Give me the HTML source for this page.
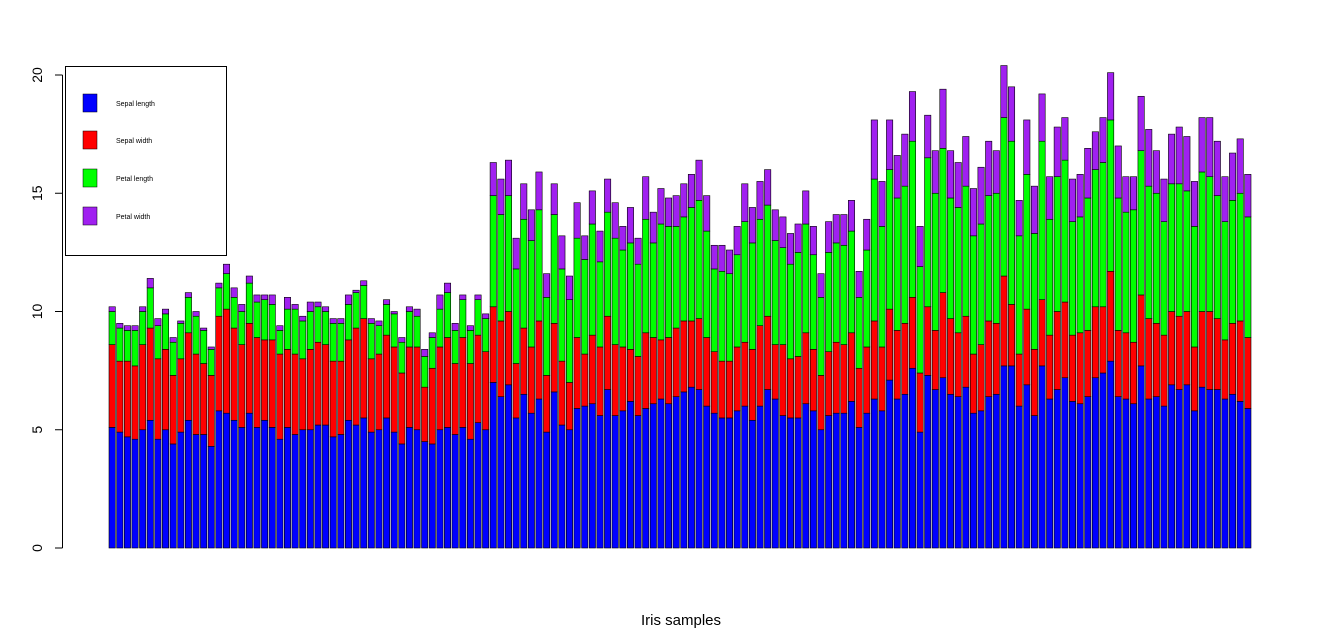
<!DOCTYPE html>
<html><head><meta charset="utf-8"><style>
body{margin:0;background:#fff;}
svg{display:block;font-family:"Liberation Sans",sans-serif;}
</style></head><body>
<svg id="chart" width="1328" height="643" viewBox="0 0 1328 643">
<g id="bars"></g>
<g id="axis"></g>
<text x="681" y="625" font-size="15" text-anchor="middle">Iris samples</text>
<g>
<rect x="65.5" y="66.5" width="161" height="189" fill="#fff" stroke="#000"/>
<rect x="83" y="94" width="14" height="18" fill="#0000ff" stroke="#000" stroke-width="0.5"/>
<text x="116" y="106" font-size="7">Sepal length</text>
<rect x="83" y="131" width="14" height="18" fill="#ff0000" stroke="#000" stroke-width="0.5"/>
<text x="116" y="143" font-size="7">Sepal width</text>
<rect x="83" y="169" width="14" height="18" fill="#00ff00" stroke="#000" stroke-width="0.5"/>
<text x="116" y="181" font-size="7">Petal length</text>
<rect x="83" y="207" width="14" height="18" fill="#a020f0" stroke="#000" stroke-width="0.5"/>
<text x="116" y="219" font-size="7">Petal width</text>
</g>
</svg>
<script>
const sepalLength=[5.1,4.9,4.7,4.6,5.0,5.4,4.6,5.0,4.4,4.9,5.4,4.8,4.8,4.3,5.8,5.7,5.4,5.1,5.7,5.1,5.4,5.1,4.6,5.1,4.8,5.0,5.0,5.2,5.2,4.7,4.8,5.4,5.2,5.5,4.9,5.0,5.5,4.9,4.4,5.1,5.0,4.5,4.4,5.0,5.1,4.8,5.1,4.6,5.3,5.0,
7.0,6.4,6.9,5.5,6.5,5.7,6.3,4.9,6.6,5.2,5.0,5.9,6.0,6.1,5.6,6.7,5.6,5.8,6.2,5.6,5.9,6.1,6.3,6.1,6.4,6.6,6.8,6.7,6.0,5.7,5.5,5.5,5.8,6.0,5.4,6.0,6.7,6.3,5.6,5.5,5.5,6.1,5.8,5.0,5.6,5.7,5.7,6.2,5.1,5.7,
6.3,5.8,7.1,6.3,6.5,7.6,4.9,7.3,6.7,7.2,6.5,6.4,6.8,5.7,5.8,6.4,6.5,7.7,7.7,6.0,6.9,5.6,7.7,6.3,6.7,7.2,6.2,6.1,6.4,7.2,7.4,7.9,6.4,6.3,6.1,7.7,6.3,6.4,6.0,6.9,6.7,6.9,5.8,6.8,6.7,6.7,6.3,6.5,6.2,5.9];
const sepalWidth=[3.5,3.0,3.2,3.1,3.6,3.9,3.4,3.4,2.9,3.1,3.7,3.4,3.0,3.0,4.0,4.4,3.9,3.5,3.8,3.8,3.4,3.7,3.6,3.3,3.4,3.0,3.4,3.5,3.4,3.2,3.1,3.4,4.1,4.2,3.1,3.2,3.5,3.6,3.0,3.4,3.5,2.3,3.2,3.5,3.8,3.0,3.8,3.2,3.7,3.3,
3.2,3.2,3.1,2.3,2.8,2.8,3.3,2.4,2.9,2.7,2.0,3.0,2.2,2.9,2.9,3.1,3.0,2.7,2.2,2.5,3.2,2.8,2.5,2.8,2.9,3.0,2.8,3.0,2.9,2.6,2.4,2.4,2.7,2.7,3.0,3.4,3.1,2.3,3.0,2.5,2.6,3.0,2.6,2.3,2.7,3.0,2.9,2.9,2.5,2.8,
3.3,2.7,3.0,2.9,3.0,3.0,2.5,2.9,2.5,3.6,3.2,2.7,3.0,2.5,2.8,3.2,3.0,3.8,2.6,2.2,3.2,2.8,2.8,2.7,3.3,3.2,2.8,3.0,2.8,3.0,2.8,3.8,2.8,2.8,2.6,3.0,3.4,3.1,3.0,3.1,3.1,3.1,2.7,3.2,3.3,3.0,2.5,3.0,3.4,3.0];
const petalLength=[1.4,1.4,1.3,1.5,1.4,1.7,1.4,1.5,1.4,1.5,1.5,1.6,1.4,1.1,1.2,1.5,1.3,1.4,1.7,1.5,1.7,1.5,1.0,1.7,1.9,1.6,1.6,1.5,1.4,1.6,1.6,1.5,1.5,1.4,1.5,1.2,1.3,1.4,1.3,1.5,1.3,1.3,1.3,1.6,1.9,1.4,1.6,1.4,1.5,1.4,
4.7,4.5,4.9,4.0,4.6,4.5,4.7,3.3,4.6,3.9,3.5,4.2,4.0,4.7,3.6,4.4,4.5,4.1,4.5,3.9,4.8,4.0,4.9,4.7,4.3,4.4,4.8,5.0,4.5,3.5,3.8,3.7,3.9,5.1,4.5,4.5,4.7,4.4,4.1,4.0,4.4,4.6,4.0,3.3,4.2,4.2,4.2,4.3,3.0,4.1,
6.0,5.1,5.9,5.6,5.8,6.6,4.5,6.3,5.8,6.1,5.1,5.3,5.5,5.0,5.1,5.3,5.5,6.7,6.9,5.0,5.7,4.9,6.7,4.9,5.7,6.0,4.8,4.9,5.6,5.8,6.1,6.4,5.6,5.1,5.6,6.1,5.6,5.5,4.8,5.4,5.6,5.1,5.1,5.9,5.7,5.2,5.0,5.2,5.4,5.1];
const petalWidth=[0.2,0.2,0.2,0.2,0.2,0.4,0.3,0.2,0.2,0.1,0.2,0.2,0.1,0.1,0.2,0.4,0.4,0.3,0.3,0.3,0.2,0.4,0.2,0.5,0.2,0.2,0.4,0.2,0.2,0.2,0.2,0.4,0.1,0.2,0.2,0.2,0.2,0.1,0.2,0.2,0.3,0.3,0.2,0.6,0.4,0.3,0.2,0.2,0.2,0.2,
1.4,1.5,1.5,1.3,1.5,1.3,1.6,1.0,1.3,1.4,1.0,1.5,1.0,1.4,1.3,1.4,1.5,1.0,1.5,1.1,1.8,1.3,1.5,1.2,1.3,1.4,1.4,1.7,1.5,1.0,1.1,1.0,1.2,1.6,1.5,1.6,1.5,1.3,1.3,1.3,1.2,1.4,1.2,1.0,1.3,1.2,1.3,1.3,1.1,1.3,
2.5,1.9,2.1,1.8,2.2,2.1,1.7,1.8,1.8,2.5,2.0,1.9,2.1,2.0,2.4,2.3,1.8,2.2,2.3,1.5,2.3,2.0,2.0,1.8,2.1,1.8,1.8,1.8,2.1,1.6,1.9,2.0,2.2,1.5,1.4,2.3,2.4,1.8,1.8,2.1,2.4,2.3,1.9,2.3,2.5,2.3,1.9,2.0,2.3,1.8];
const yTicks=[0,5,10,15,20];
const seriesNames=["sepal-length","sepal-width","petal-length","petal-width"];
const seriesColors=["#0000ff","#ff0000","#00ff00","#a020f0"];

const NS="http://www.w3.org/2000/svg";
const y0=548, pxPerUnit=(548-75)/20;
const yScale=v=>y0-v*pxPerUnit;
const xLeft=109, xRight=1251, n=sepalLength.length;
const unit=(xRight-xLeft)/(n*1.2-0.2);
const xScale=i=>xLeft+i*1.2*unit;
const bars=document.getElementById('bars');
const series=[sepalLength,sepalWidth,petalLength,petalWidth];
for(let i=0;i<n;i++){
  let cum=0;
  for(let s=0;s<4;s++){
    const v=series[s][i];
    const r=document.createElementNS(NS,'rect');
    r.setAttribute('x',xScale(i));
    r.setAttribute('width',unit);
    r.setAttribute('y',yScale(cum+v));
    r.setAttribute('height',v*pxPerUnit);
    r.setAttribute('fill',seriesColors[s]);
    r.setAttribute('stroke','#000');
    r.setAttribute('stroke-width','0.6');
    
    
    bars.appendChild(r);
    cum+=v;
  }
}
const axis=document.getElementById('axis');
const line=document.createElementNS(NS,'line');
line.setAttribute('x1',62.5);line.setAttribute('x2',62.5);
line.setAttribute('y1',yScale(yTicks[0]));line.setAttribute('y2',yScale(yTicks[yTicks.length-1]));
line.setAttribute('stroke','#000');


axis.appendChild(line);
yTicks.forEach(t=>{
  const y=yScale(t);
  const tk=document.createElementNS(NS,'line');
  tk.setAttribute('x1',55);tk.setAttribute('x2',62.5);
  tk.setAttribute('y1',y);tk.setAttribute('y2',y);
  tk.setAttribute('stroke','#000');
  
  
  axis.appendChild(tk);
  const tx=document.createElementNS(NS,'text');
  tx.setAttribute('x',42);tx.setAttribute('y',y);
  tx.setAttribute('font-size','14');
  tx.setAttribute('text-anchor','middle');
  tx.setAttribute('transform','rotate(-90 42 '+y+')');
  tx.textContent=t;
  
  
  axis.appendChild(tx);
});
</script>
</body></html>
